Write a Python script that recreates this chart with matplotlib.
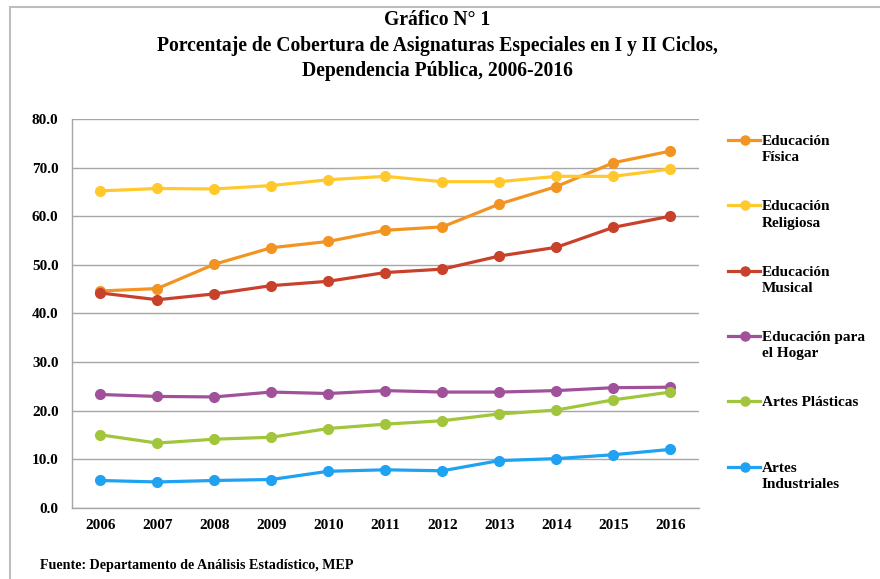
import matplotlib
matplotlib.use("Agg")
import matplotlib.pyplot as plt
from matplotlib.lines import Line2D
from matplotlib.patches import Rectangle

years = ["2006", "2007", "2008", "2009", "2010", "2011", "2012", "2013", "2014", "2015", "2016"]

ed_fisica = [44.6, 45.1, 50.1, 53.5, 54.8, 57.1, 57.8, 62.5, 66.1, 71.0, 73.4]
ed_religiosa = [65.2, 65.7, 65.6, 66.3, 67.5, 68.2, 67.1, 67.1, 68.2, 68.2, 69.7]
ed_musical = [44.2, 42.8, 44.0, 45.7, 46.6, 48.4, 49.1, 51.8, 53.6, 57.7, 60.0]
ed_hogar = [23.3, 22.9, 22.8, 23.8, 23.5, 24.1, 23.8, 23.8, 24.1, 24.7, 24.8]
artes_plasticas = [15.0, 13.3, 14.1, 14.5, 16.3, 17.2, 17.9, 19.3, 20.1, 22.2, 23.8]
artes_industriales = [5.6, 5.3, 5.6, 5.8, 7.5, 7.8, 7.6, 9.7, 10.1, 10.9, 12.0]

series_labels = ["Educación\nFísica", "Educación\nReligiosa", "Educación\nMusical",
                 "Educación para\nel Hogar", "Artes Plásticas", "Artes\nIndustriales"]
series_values = [ed_fisica, ed_religiosa, ed_musical, ed_hogar, artes_plasticas, artes_industriales]
colors = ["#F39422", "#FFC92E", "#C8412B", "#A0519A", "#A1C63B", "#1FA2F1"]

yticks = [0, 10, 20, 30, 40, 50, 60, 70, 80]

plt.rcParams['font.family'] = ['Liberation Serif', 'DejaVu Serif']
plt.rcParams['font.weight'] = 'bold'

W, H = 880, 579
fig = plt.figure(figsize=(W / 100, H / 100), dpi=100)
fig.patch.set_facecolor("white")

# outer frame
fig.add_artist(Rectangle((10 / W, -0.05), 1.0, 1 - 7 / H + 0.05, transform=fig.transFigure,
                         fill=False, edgecolor="#BDBDBD", linewidth=1.5))

ax = fig.add_axes([71.7 / W, (H - 507.7) / H, (699 - 71.7) / W, (507.7 - 119) / H])
x = list(range(len(years)))
for vals, c in zip(series_values, colors):
    ax.plot(x, vals, color=c, linewidth=2.3, marker="o", markersize=7, zorder=3)

ax.set_xlim(-0.5, len(years) - 0.5)
ax.set_ylim(0, 80)
ax.set_yticks(yticks)
ax.set_yticklabels([f"{v:.1f}" for v in yticks])
ax.set_xticks(x)
ax.set_xticklabels(years)
ax.tick_params(axis="both", length=0, labelsize=11)
ax.tick_params(axis="y", pad=9.5)
ax.tick_params(axis="x", pad=8)
for lab in ax.get_xticklabels() + ax.get_yticklabels():
    lab.set_fontweight("bold")
ax.yaxis.grid(True, color="#A6A6A6", linewidth=1.0)
ax.set_axisbelow(True)
for s in ["top", "right"]:
    ax.spines[s].set_visible(False)
for s in ["left", "bottom"]:
    ax.spines[s].set_color("#A6A6A6")
    ax.spines[s].set_linewidth(1.0)

# titles
cx = 437.5 / W
title_fs = 14.1
fig.text(cx, 1 - 20 / H, "Gráfico N° 1", ha="center", va="center", fontsize=title_fs, fontweight="bold")
fig.text(cx, 1 - 46 / H, "Porcentaje de Cobertura de Asignaturas Especiales en I y II Ciclos,",
         ha="center", va="center", fontsize=title_fs, fontweight="bold")
fig.text(cx, 1 - 71 / H, "Dependencia Pública, 2006-2016", ha="center", va="center",
         fontsize=title_fs, fontweight="bold")

# legend (manual)
leg_y = [140, 205, 271, 336, 401, 467]
for lab, c, yy in zip(series_labels, colors, leg_y):
    yf = 1 - yy / H
    fig.add_artist(Line2D([728 / W, 760 / W], [yf, yf], transform=fig.transFigure,
                          color=c, linewidth=2.3))
    fig.add_artist(Line2D([744.5 / W], [yf], transform=fig.transFigure,
                          color=c, marker="o", markersize=6.5, linestyle="none"))
    fig.text(762 / W, 1 - (yy - 5) / H, lab, ha="left", va="top", fontsize=11,
             fontweight="bold", linespacing=1.35)

fig.text(40 / W, 1 - 566 / H, "Fuente: Departamento de Análisis Estadístico, MEP",
         ha="left", va="center", fontsize=10.2, fontweight="bold")

fig.savefig("out.png", dpi=100, facecolor="white")
